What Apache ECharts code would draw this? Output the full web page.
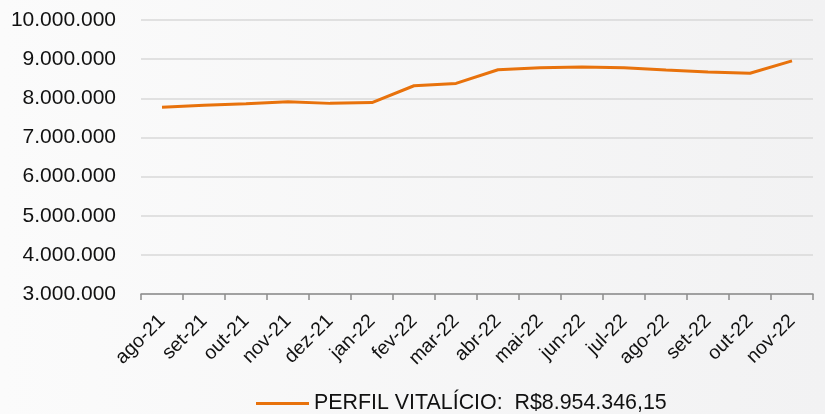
<!DOCTYPE html>
<html>
<head>
<meta charset="utf-8">
<script src="https://cdn.jsdelivr.net/npm/echarts@6/dist/echarts.min.js"></script>
<style>
  html, body { margin: 0; padding: 0; }
  #chart { width: 825px; height: 414px; }
</style>
</head>
<body>
<div id="chart"></div>
<script>
// meses
const months = ['ago-21','set-21','out-21','nov-21','dez-21','jan-22','fev-22','mar-22','abr-22','mai-22','jun-22','jul-22','ago-22','set-22','out-22','nov-22'];
// patrimônio do perfil vitalício
const values = [7770000, 7820000, 7860000, 7910000, 7870000, 7890000, 8320000, 8380000, 8730000, 8780000, 8800000, 8780000, 8720000, 8670000, 8640000, 8954346.15];
const seriesName = 'PERFIL VITALÍCIO:  R$8.954.346,15';

// separador de milhar com ponto
function fmt(v) {
    return String(Math.round(v)).replace(/\B(?=(\d{3})+(?!\d))/g, '.');
}

let myChart = echarts.init(document.getElementById('chart'));
let option = {
    backgroundColor: {
        type: 'linear', x: 0, y: 0, x2: 1, y2: 0,
        colorStops: [
            { offset: 0, color: '#fbfbfb' },
            { offset: 1, color: '#f2f2f3' }
        ]
    },
    textStyle: { fontFamily: 'Liberation Sans, Arial, sans-serif' },
    grid: { left: 141, right: 12, top: 20, bottom: 120 },
    legend: {
        top: 388,
        left: 251,
        icon: 'rect',
        itemWidth: 53,
        itemHeight: 3,
        itemGap: 6,
        textStyle: { fontSize: 21.4, color: '#111' },
        data: [seriesName]
    },
    xAxis: {
        type: 'category',
        data: months,
        boundaryGap: true,
        axisLine: { lineStyle: { color: '#8c8c8c', width: 1.5 } },
        axisTick: { show: true, length: 6, lineStyle: { color: '#8c8c8c', width: 1.5 } },
        axisLabel: { rotate: 45, fontSize: 19.5, color: '#111', interval: 0, margin: 24 }
    },
    yAxis: {
        type: 'value',
        min: 3000000,
        max: 10000000,
        interval: 1000000,
        axisLine: { show: false },
        axisTick: { show: false },
        splitLine: { lineStyle: { color: '#d9d9d9', width: 1.5 } },
        axisLabel: { fontSize: 21, color: '#111', margin: 25, formatter: fmt }
    },
    series: [
        {
            name: seriesName,
            type: 'line',
            data: values,
            symbol: 'none',
            smooth: false,
            lineStyle: { color: '#e8720c', width: 3 },
            itemStyle: { color: '#e8720c' }
        }
    ]
};
myChart.setOption(option);
</script>
</body>
</html>
